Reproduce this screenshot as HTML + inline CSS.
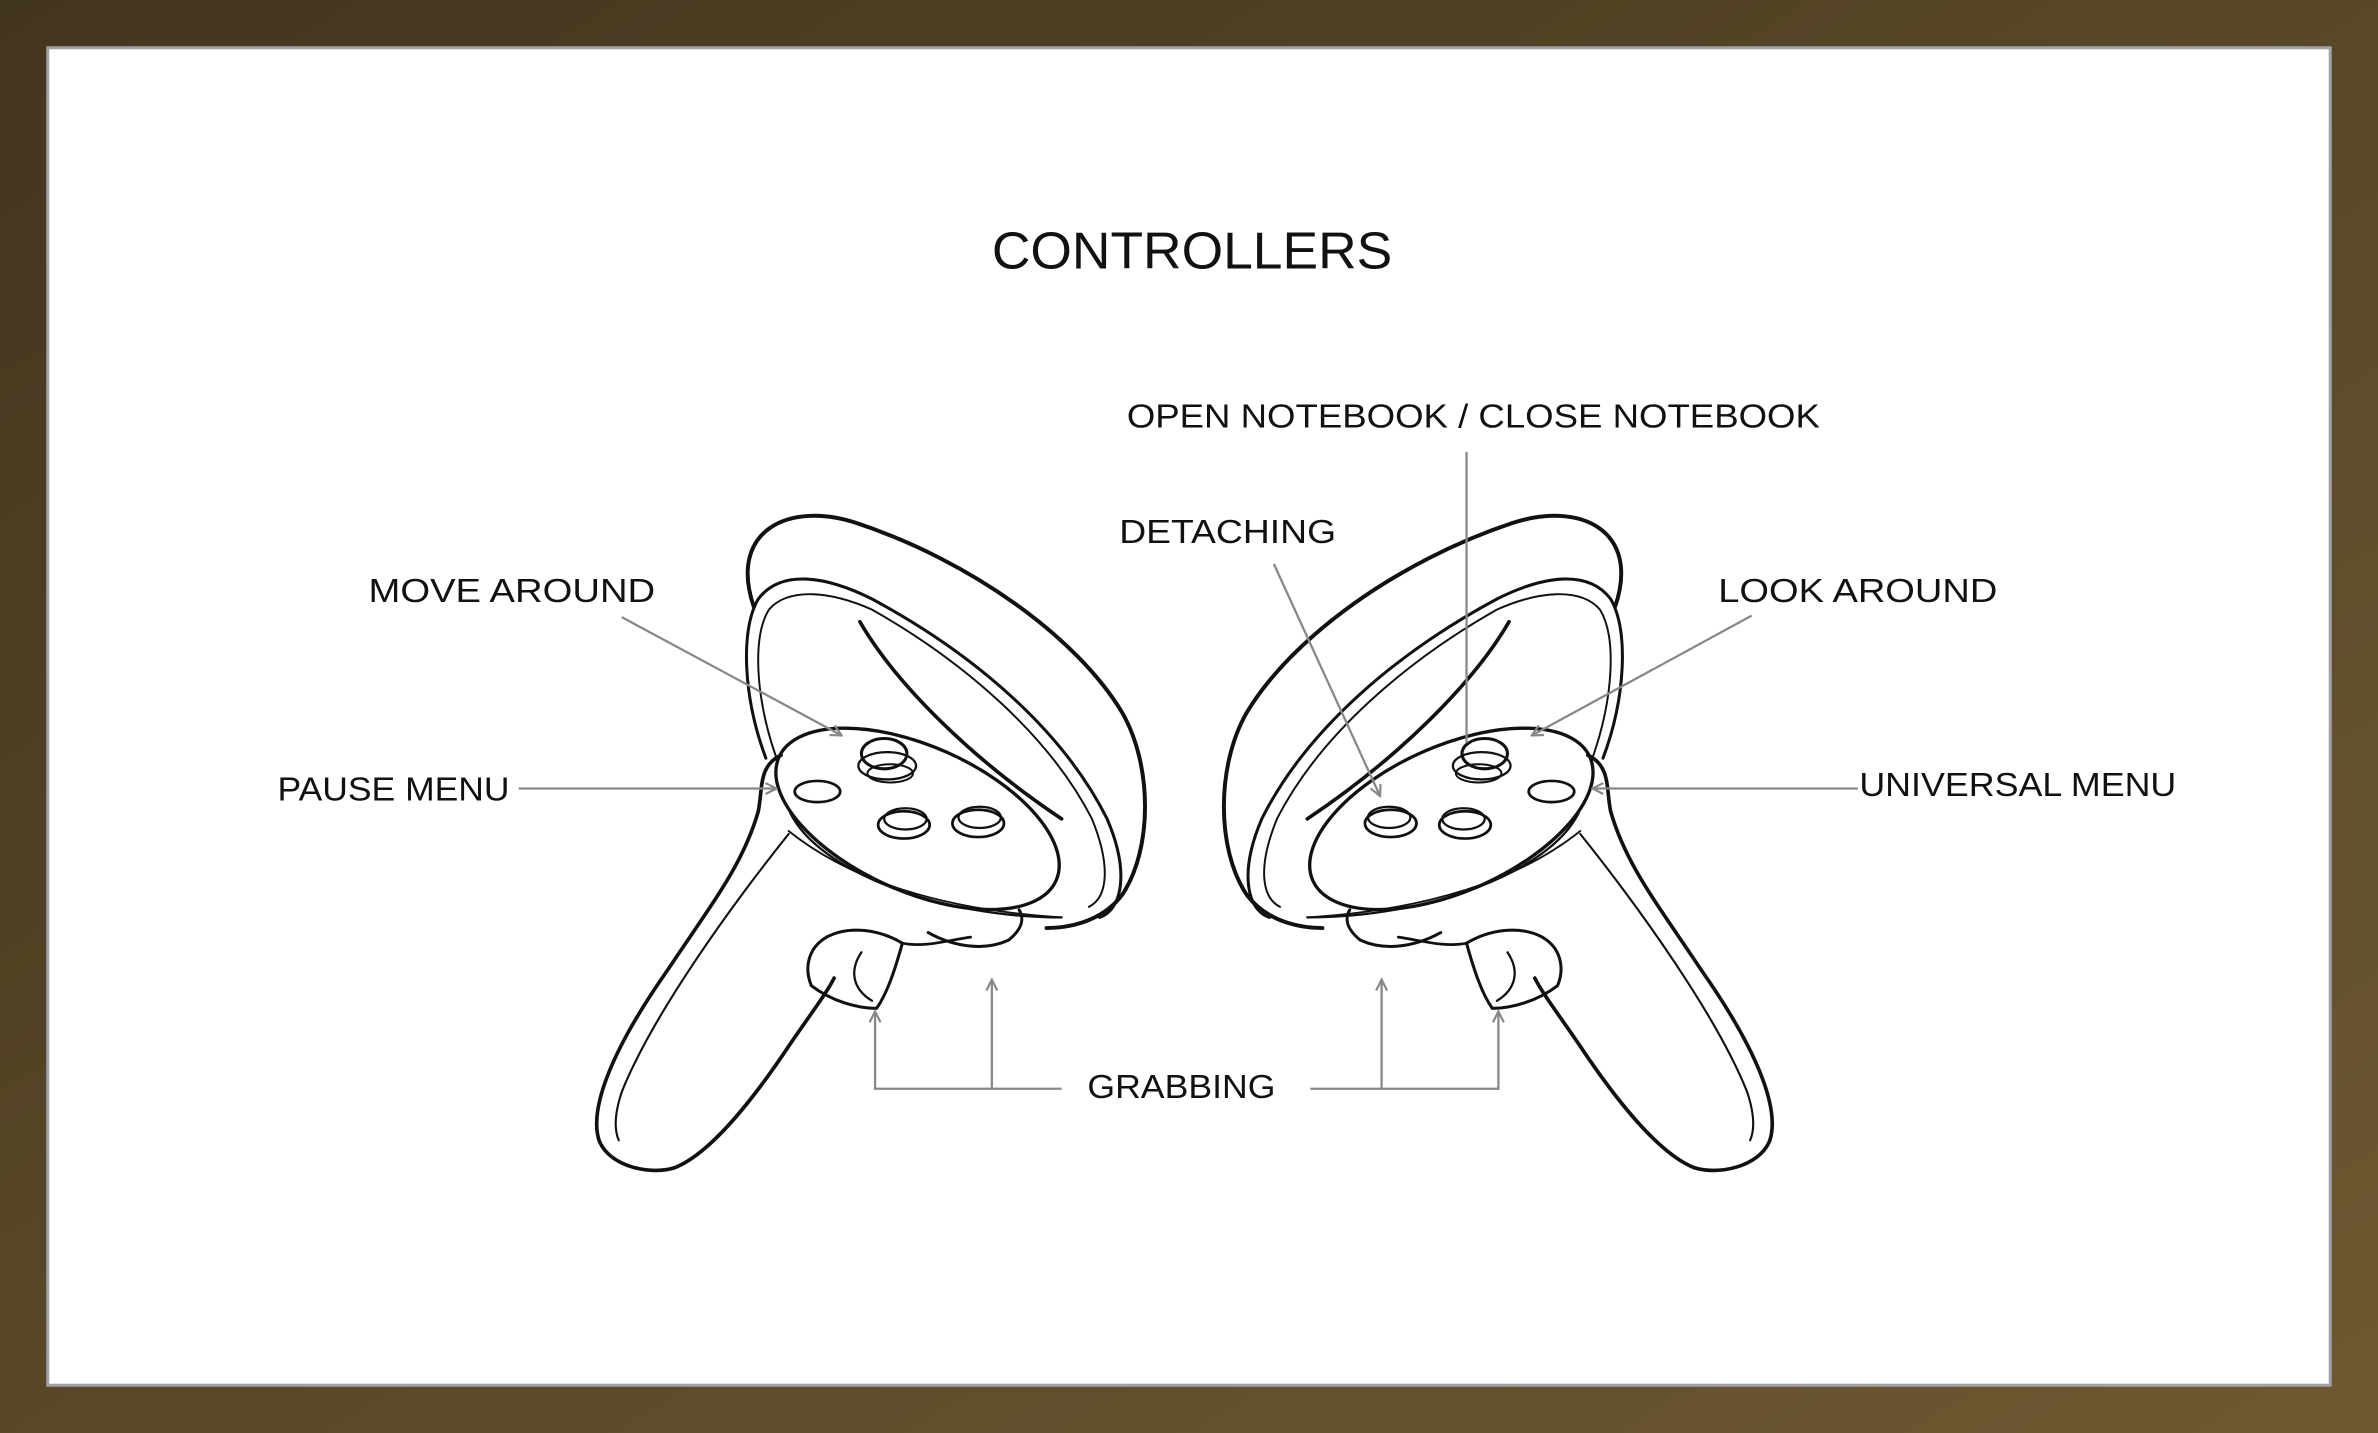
<!DOCTYPE html>
<html><head><meta charset="utf-8"><style>
html,body{margin:0;padding:0;width:2378px;height:1433px;overflow:hidden;}
svg{display:block}
text{font-family:"Liberation Sans",sans-serif;fill:#111;}
</style></head><body>
<svg width="2378" height="1433" viewBox="0 0 1568 945" preserveAspectRatio="none" xmlns="http://www.w3.org/2000/svg">
<defs>
<linearGradient id="bg" x1="0" y1="0" x2="1" y2="1">
<stop offset="0" stop-color="#43361e"/><stop offset="1" stop-color="#6e5831"/>
</linearGradient>
<marker id="ar" viewBox="0 0 10 10" refX="9" refY="5" markerWidth="6" markerHeight="6" orient="auto-start-reverse">
<path d="M1,1 L9,5 L1,9" fill="none" stroke="#888" stroke-width="1.6"/>
</marker>
<g id="ctrl" fill="none" stroke="#111" stroke-linecap="round" stroke-linejoin="round">
 <path d="M497,400 C480,350 520,330 565,345 C640,370 710,420 740,470 C760,505 760,560 740,590 C725,610 700,612 690,612" stroke-width="2.6"/>
 <path d="M505,500 C490,460 488,415 500,395 C515,375 545,380 575,395 C640,430 700,480 730,540 C745,575 740,600 725,605" stroke-width="2"/>
 <path d="M512,500 C498,460 496,420 507,402 C520,387 548,390 575,402 C635,436 692,485 720,540 C733,572 730,592 718,598" stroke-width="1.3"/>
 <path d="M567,410 C590,450 640,500 700,540" stroke-width="2.4"/>
 <ellipse cx="605" cy="540" rx="100" ry="48" transform="rotate(24 605 540)" stroke-width="2.2"/>
 <path d="M521,536 C540,575 620,605 700,605" stroke-width="1.5"/>
 <ellipse cx="585" cy="505" rx="19" ry="9" stroke-width="1.5"/>
 <ellipse cx="587" cy="510" rx="15" ry="6" stroke-width="1.3"/>
 <ellipse cx="583" cy="497" rx="15" ry="10" stroke-width="2"/>
 <ellipse cx="539" cy="522" rx="15" ry="7" stroke-width="1.8"/>
 <ellipse cx="596" cy="544" rx="17" ry="9" stroke-width="1.8"/>
 <ellipse cx="597" cy="540" rx="14" ry="7" stroke-width="1.5"/>
 <ellipse cx="645" cy="543" rx="17" ry="9" stroke-width="1.8"/>
 <ellipse cx="646" cy="539" rx="14" ry="7" stroke-width="1.5"/>
 <path d="M515,498 C500,505 503,520 500,535 C490,570 470,595 440,640 C405,690 388,730 395,752 C402,770 430,775 445,770 C470,760 500,720 520,690 C535,668 545,655 550,645" stroke-width="2.4"/>
 <path d="M520,550 C480,600 430,670 410,720 C405,735 405,745 408,752" stroke-width="1.4"/>
 <path d="M520,548 C560,580 620,600 700,605" stroke-width="1.2"/>
 <path d="M612,615 C630,625 650,627 665,620 C675,612 675,605 672,600" stroke-width="2"/>
 <path d="M545,618 C560,610 580,613 595,622 C590,640 585,655 578,665 C565,665 548,660 535,650 C530,638 533,625 545,618 Z" stroke-width="2"/>
 <path d="M568,628 C560,640 562,652 575,660" stroke-width="1.5"/>
 <path d="M595,622 C610,625 625,620 640,618" stroke-width="1.8"/>
</g>
</defs>
<rect width="1568" height="945" fill="url(#bg)"/>
<rect x="31.5" y="31.5" width="1505" height="882" fill="#fff" stroke="#a0a2aa" stroke-width="2"/>
<text x="654" y="177" font-size="34" textLength="264" lengthAdjust="spacingAndGlyphs">CONTROLLERS</text>

<use href="#ctrl"/>
<use href="#ctrl" transform="translate(1562,0) scale(-1,1)"/>

<g stroke="#888" stroke-width="1.5" fill="none">
 <line x1="410" y1="407" x2="555" y2="485" marker-end="url(#ar)"/>
 <line x1="342" y1="520" x2="512" y2="520" marker-end="url(#ar)"/>
 <line x1="840" y1="372" x2="910" y2="525" marker-end="url(#ar)"/>
 <line x1="967" y1="298" x2="967" y2="490"/>
 <line x1="1155" y1="406" x2="1010" y2="485" marker-end="url(#ar)"/>
 <line x1="1225" y1="520" x2="1050" y2="520" marker-end="url(#ar)"/>
 <polyline points="700,718 577,718 577,667" marker-end="url(#ar)"/>
 <line x1="654" y1="718" x2="654" y2="646" marker-end="url(#ar)"/>
 <polyline points="864,718 988,718 988,667" marker-end="url(#ar)"/>
 <line x1="911" y1="718" x2="911" y2="646" marker-end="url(#ar)"/>
</g>
<g font-size="22" lengthAdjust="spacingAndGlyphs">
 <text x="243" y="397" textLength="189" lengthAdjust="spacingAndGlyphs">MOVE AROUND</text>
 <text x="183" y="528" textLength="153" lengthAdjust="spacingAndGlyphs">PAUSE MENU</text>
 <text x="738" y="358" textLength="143" lengthAdjust="spacingAndGlyphs">DETACHING</text>
 <text x="743" y="282" textLength="457" lengthAdjust="spacingAndGlyphs">OPEN NOTEBOOK / CLOSE NOTEBOOK</text>
 <text x="1133" y="397" textLength="184" lengthAdjust="spacingAndGlyphs">LOOK AROUND</text>
 <text x="1226" y="525" textLength="209" lengthAdjust="spacingAndGlyphs">UNIVERSAL MENU</text>
 <text x="717" y="724" textLength="124" lengthAdjust="spacingAndGlyphs">GRABBING</text>
</g>
</svg>
</body></html>
